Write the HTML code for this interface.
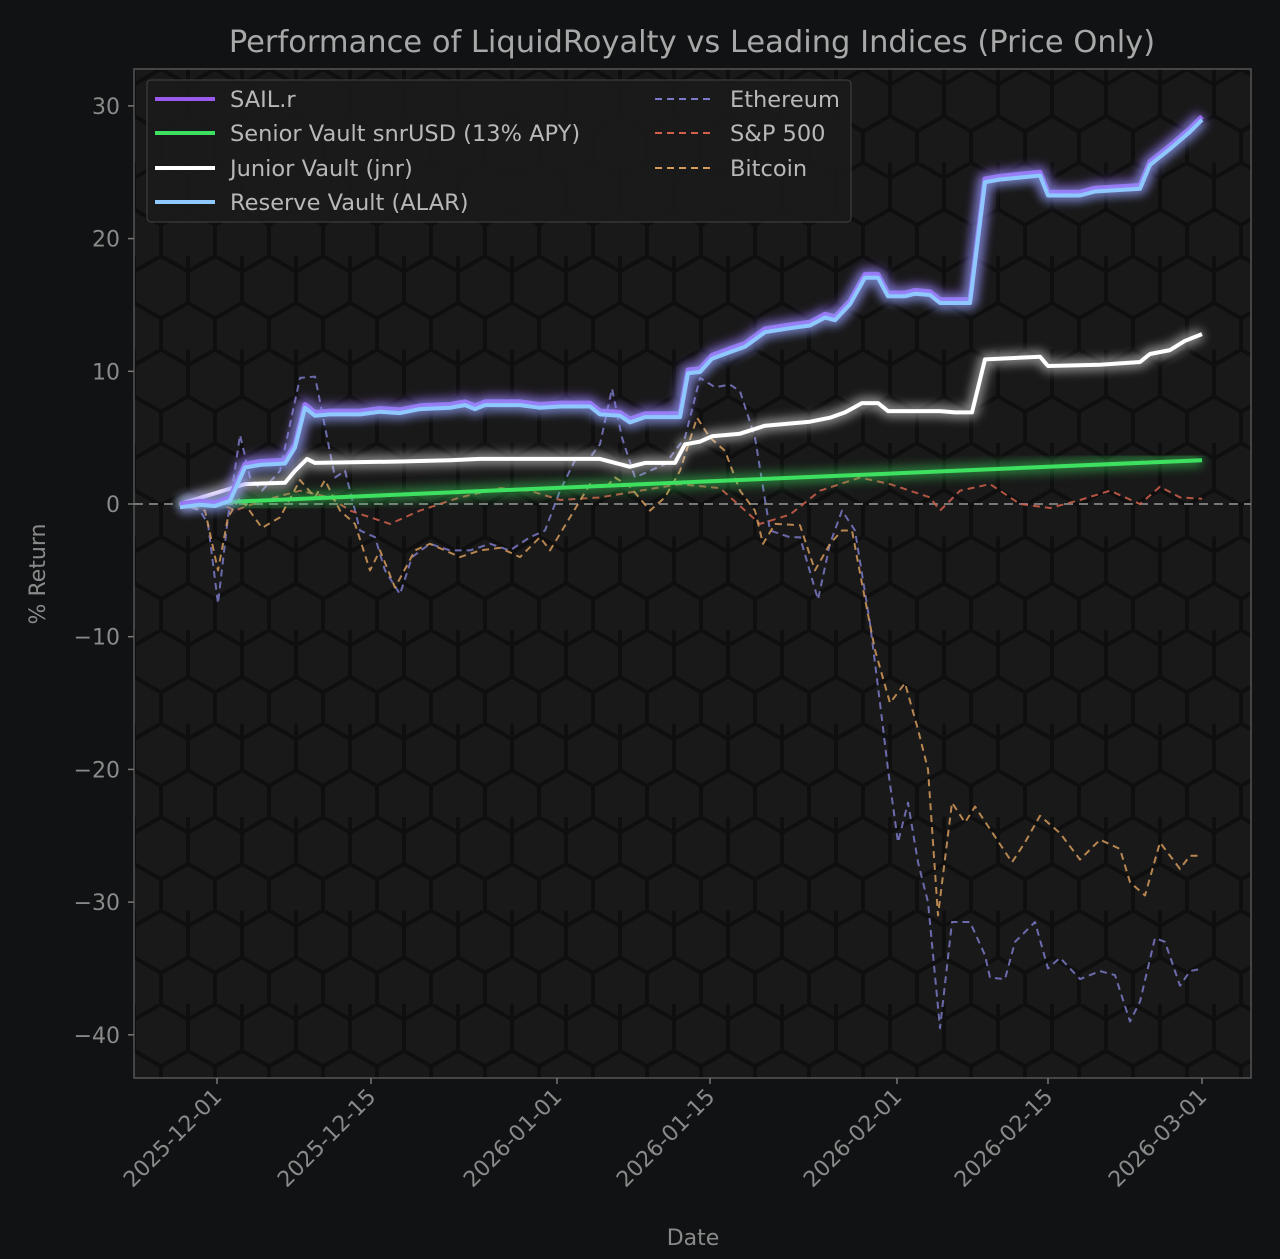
<!DOCTYPE html>
<html><head><meta charset="utf-8"><style>
html,body{margin:0;padding:0;background:#111213;}
svg{display:block;font-family:"DejaVu Sans","Liberation Sans",sans-serif;}
</style></head><body>
<svg id="s" width="1280" height="1259" viewBox="0 0 1280 1259" xmlns="http://www.w3.org/2000/svg">
<defs>
<pattern id="hex" width="54" height="93.5" patternUnits="userSpaceOnUse" x="134" y="69">
<path d="M27 0 L54 15.6 L54 46.8 L27 62.4 L0 46.8 L0 15.6 Z M27 62.4 L27 93.5 M0 46.8 L0 0 M54 46.8 L54 0" fill="none" stroke="#000" stroke-width="4" opacity="0.4"/>
</pattern>
<filter id="glow" x="-10%" y="-10%" width="120%" height="120%"><feGaussianBlur stdDeviation="5"/></filter>
</defs>
<rect width="1280" height="1259" fill="#111213"/>
<rect x="134" y="69" width="1117" height="1009" fill="#191919"/>
<rect x="134" y="69" width="1117" height="1009" fill="url(#hex)"/>
<rect x="134" y="69" width="1117" height="1009" fill="none" stroke="#555" stroke-width="1.5"/>
<text x="692" y="52" text-anchor="middle" font-size="30.5" fill="#a8a8a8">Performance of LiquidRoyalty vs Leading Indices (Price Only)</text>
<g id="yt" font-size="22" fill="#8a8a8a" text-anchor="end"></g>
<g id="xt" font-size="22" fill="#8a8a8a"></g>
<text x="45" y="574" font-size="22" fill="#8a8a8a" text-anchor="middle" transform="rotate(-90 45 574)">% Return</text>
<text x="693" y="1245" font-size="22" fill="#8a8a8a" text-anchor="middle">Date</text>
<line x1="134" y1="504" x2="1251" y2="504" stroke="#777" stroke-width="2" stroke-dasharray="9,6"/>
<g id="series"></g>
<rect x="147" y="80" width="704" height="142" rx="4" fill="#1b1b1b" fill-opacity="0.85" stroke="#444"/>
<g font-size="22.5" fill="#b8b8b8">
<line x1="155" y1="99" x2="215" y2="99" stroke="#9a5af0" stroke-width="4"/><text x="230" y="107">SAIL.r</text>
<line x1="155" y1="133" x2="215" y2="133" stroke="#3ee060" stroke-width="4"/><text x="230" y="141">Senior Vault snrUSD (13% APY)</text>
<line x1="155" y1="168" x2="215" y2="168" stroke="#ffffff" stroke-width="4"/><text x="230" y="176">Junior Vault (jnr)</text>
<line x1="155" y1="202" x2="215" y2="202" stroke="#8ec8ff" stroke-width="4"/><text x="230" y="210">Reserve Vault (ALAR)</text>
<line x1="655" y1="99" x2="715" y2="99" stroke="#7a7ac8" stroke-width="2" stroke-dasharray="7,5"/><text x="730" y="107">Ethereum</text>
<line x1="655" y1="133" x2="715" y2="133" stroke="#d0604c" stroke-width="2" stroke-dasharray="7,5"/><text x="730" y="141">S&amp;P 500</text>
<line x1="655" y1="168" x2="715" y2="168" stroke="#d49a5c" stroke-width="2" stroke-dasharray="7,5"/><text x="730" y="176">Bitcoin</text>
</g>
</svg>
<script>
const NS="http://www.w3.org/2000/svg";
const Y=v=>504-v*13.27;
function el(t,a,p){const e=document.createElementNS(NS,t);for(const k in a)e.setAttribute(k,a[k]);p.appendChild(e);return e;}
const yt=document.getElementById('yt');
[30,20,10,0,-10,-20,-30,-40].forEach(v=>{const y=Y(v);el('line',{x1:128,x2:134,y1:y,y2:y,stroke:'#777','stroke-width':1.5},yt);const t=el('text',{x:120,y:y+8},yt);t.textContent=(v<0?'\u2212'+(-v):v);});
const xt=document.getElementById('xt');
[[217,'2025-12-01'],[371,'2025-12-15'],[557,'2026-01-01'],[710,'2026-01-15'],[897,'2026-02-01'],[1048,'2026-02-15'],[1202,'2026-03-01']].forEach(([x,l])=>{el('line',{x1:x,x2:x,y1:1078,y2:1084,stroke:'#777','stroke-width':1.5},xt);const t=el('text',{x:x+6,y:1098,'text-anchor':'end',transform:`rotate(-45 ${x+6} 1098)`},xt);t.textContent=l;});
function P(a){let s=[];for(let i=0;i<a.length;i+=2)s.push(a[i]+','+Y(a[i+1]).toFixed(1));return s.join(' ');}
const g=document.getElementById('series');
function line(d,c,w,dash,glow,op){const p=P(d);if(glow)el('polyline',{points:p,fill:'none',stroke:c,'stroke-width':w*3,opacity:0.5,filter:'url(#glow)','stroke-linejoin':'round'},g);const o={points:p,fill:'none',stroke:c,'stroke-width':w,'stroke-linejoin':'round',opacity:op||1};if(dash)o['stroke-dasharray']=dash;el('polyline',o,g);}
const eth=[180,0,200,-0.5,208,-1.5,218,-7.5,228,-1,240,5.2,250,2,262,1,280,2.5,300,9.5,315,9.6,335,2,345,2.5,360,-2,375,-2.5,385,-5,400,-6.8,412,-4,430,-3,450,-3.5,470,-3.5,490,-3,510,-3.5,530,-2.5,545,-2,560,1,575,3.3,590,3.5,600,4.5,612,8.7,622,5,635,2,650,2.5,665,3,675,4,685,5,700,9.5,715,8.8,730,9,740,8.5,755,5,770,-2,790,-2.5,800,-2.5,818,-7.2,830,-3,842,-0.5,855,-2,870,-9,880,-15,888,-20,898,-25.5,908,-22.5,918,-27,928,-30,940,-39.5,952,-31.5,970,-31.5,985,-34,990,-35.7,1005,-35.8,1015,-33,1035,-31.5,1048,-35,1060,-34.2,1080,-35.8,1100,-35.2,1115,-35.5,1130,-39,1140,-37.5,1155,-32.7,1165,-33,1180,-36.3,1190,-35.2,1202,-35];
const btc=[180,0,205,-0.5,218,-5,228,-1,240,0.5,262,-1.8,280,-1,300,1.8,315,0.5,325,1.8,340,-0.5,355,-1.5,370,-5,380,-3.5,395,-6.3,415,-3.5,430,-3,445,-3.5,460,-4,480,-3.5,500,-3.3,520,-4,540,-2.5,550,-3.5,570,-1,590,1.5,605,1.2,615,2,630,1.3,650,-0.5,665,0.5,680,2.5,697,6.5,710,5,725,4,740,1,755,-0.5,763,-3,775,-1.5,800,-1.6,815,-5,830,-3,842,-2,852,-2,862,-6,875,-11,890,-15,905,-13.5,918,-17,928,-20,938,-31,952,-22.5,965,-24,975,-22.8,990,-24.5,1012,-27,1025,-25.5,1040,-23.5,1060,-24.8,1080,-26.8,1100,-25.3,1120,-26,1130,-28.5,1145,-29.5,1160,-25.5,1180,-27.5,1190,-26.5,1202,-26.5];
const sp=[180,0,215,0.2,235,-0.5,260,0.2,300,1,330,0.5,350,-0.5,390,-1.5,420,-0.5,460,0.5,500,1.2,530,1.0,560,0.3,600,0.5,640,1.0,680,1.5,720,1.2,760,-1.5,790,-0.8,820,1,860,2,890,1.5,930,0.5,940,-0.5,960,1,990,1.5,1020,0,1050,-0.3,1080,0.3,1110,1,1140,0,1160,1.3,1180,0.5,1202,0.4];
line(eth,'#7a7ac8',2,'7,5',false,0.85);
line(sp,'#d0604c',2,'7,5',false,0.85);
line(btc,'#d49a5c',2,'7,5',false,0.85);
const sail=[180,0,200,0.2,215,0.1,230,0.5,245,3,260,3.2,285,3.3,295,4.5,305,7.5,315,6.9,330,7,360,7,380,7.2,400,7.1,420,7.4,450,7.5,465,7.7,475,7.4,485,7.7,520,7.7,540,7.5,560,7.6,590,7.6,600,7.0,620,6.9,630,6.4,645,6.8,680,6.8,688,10.1,700,10.2,712,11.2,730,11.7,745,12.1,765,13.2,790,13.5,810,13.7,825,14.3,835,14.1,850,15.3,865,17.3,878,17.3,888,15.9,905,15.9,915,16.1,930,16.0,940,15.4,970,15.4,985,24.5,1000,24.7,1040,25.0,1048,23.5,1080,23.5,1095,23.8,1140,24.0,1150,25.8,1170,27,1190,28.3,1202,29.2];
const res=sail.map((v,i)=>i%2?v-0.25:v);
const jnr=[180,0,245,1.5,285,1.6,295,2.5,307,3.4,315,3.1,400,3.2,450,3.3,480,3.4,600,3.4,630,2.8,645,3.1,675,3.1,685,4.5,700,4.7,712,5.1,740,5.3,765,5.9,810,6.2,830,6.5,845,6.9,862,7.6,878,7.6,888,7.0,940,7.0,955,6.9,972,6.9,985,10.9,1040,11.1,1048,10.4,1100,10.5,1140,10.7,1150,11.3,1170,11.6,1185,12.3,1202,12.8];
line([180,0,1202,3.3],'#3ee060',4,null,true);
line(jnr,'#ffffff',4,null,true);
line(sail,'#9a5af0',5,null,true);
line(res,'#8ec8ff',4,null,true);
</script>
</body></html>
